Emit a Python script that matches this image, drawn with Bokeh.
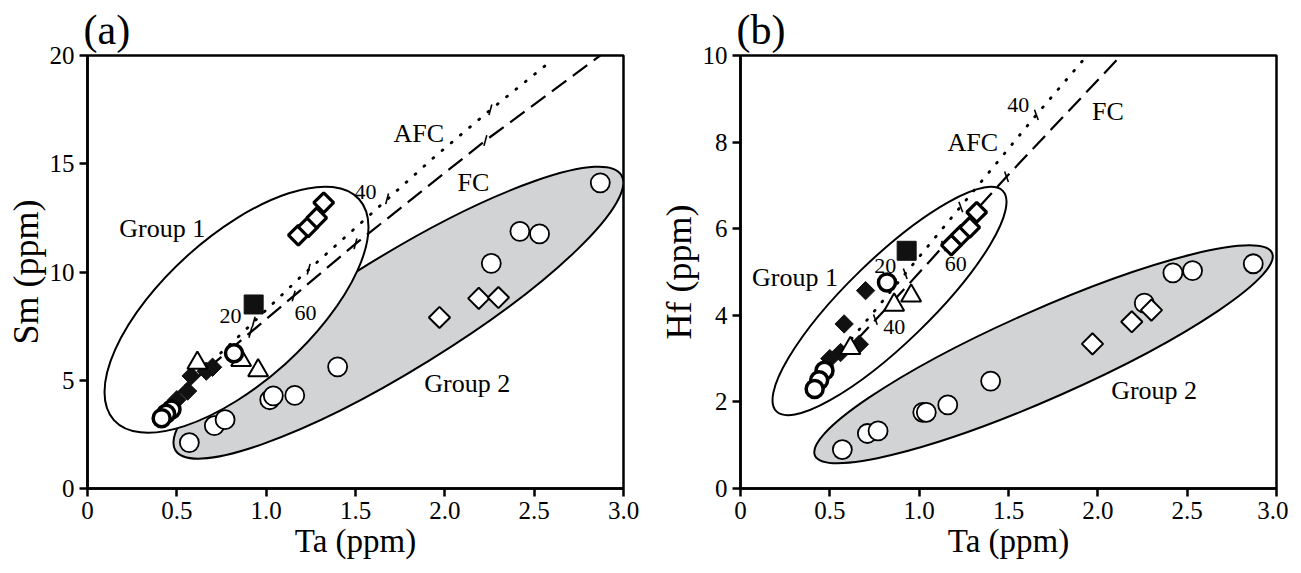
import numpy as np
from bokeh.plotting import figure
from bokeh.layouts import row
from bokeh.models import FixedTicker, CustomJSTickFormatter
from bokeh.embed import file_html
from bokeh.resources import INLINE
from bokeh.core.properties import value

FONT = "Liberation Serif"

# ---------------- data (Ta shared by both panels) ----------------
# Group 2: open circles
g2c_ta = [0.57, 0.71, 0.77, 1.02, 1.04, 1.16, 1.40, 2.26, 2.42, 2.53, 2.87]
g2c_sm = [2.12, 2.90, 3.18, 4.10, 4.28, 4.30, 5.62, 10.40, 11.88, 11.76, 14.12]
g2c_hf = [0.90, 1.27, 1.33, 1.76, 1.76, 1.93, 2.48, 4.28, 4.98, 5.03, 5.19]
# Group 2: open diamonds
g2d_ta = [1.97, 2.19, 2.30]
g2d_sm = [7.90, 8.78, 8.82]
g2d_hf = [3.34, 3.85, 4.12]
# Group 1: bold open diamonds
g1d_ta = [1.18, 1.235, 1.283, 1.322]
g1d_sm = [11.70, 12.08, 12.50, 13.20]
g1d_hf = [5.62, 5.85, 6.03, 6.38]
# Group 1: filled diamonds
g1f_ta = [0.70, 0.58, 0.665, 0.56, 0.50]
g1f_sm = [5.60, 5.20, 5.42, 4.50, 4.10]
g1f_hf = [4.57, 3.80, 3.33, 3.14, 3.00]
# Group 1: bold open circles
g1c_ta = [0.82, 0.47, 0.44, 0.415]
g1c_sm = [6.25, 3.65, 3.45, 3.25]
g1c_hf = [4.76, 2.72, 2.50, 2.30]
# Group 1: open triangles
g1t_ta = [0.86, 0.955, 0.615]
g1t_sm = [5.92, 5.45, 5.80]
g1t_hf = [4.24, 4.45, 3.24]
# Group 1: filled square
g1s_ta = [0.93]
g1s_sm = [8.50]
g1s_hf = [5.49]

# Model curves (Ta, Sm) and (Ta, Hf)
afc_a_ta = [0.45, 0.83, 1.19, 1.50, 1.94, 2.255, 2.58]
afc_a_sm = [4.0, 6.90, 9.75, 12.04, 15.30, 17.49, 19.65]
fc_a_ta = [0.45, 0.99, 1.50, 2.227, 2.87]
fc_a_sm = [4.0, 7.75, 11.30, 16.07, 20.0]
afc_b_ta = [0.45, 1.024, 1.656, 1.94]
afc_b_hf = [2.60, 5.47, 8.63, 10.0]
fc_b_ta = [0.45, 0.922, 1.489, 2.13]
fc_b_hf = [2.55, 4.63, 7.20, 10.0]

# Tick marks on the curves (percent crystallised)
tick_a_ta = [0.912, 1.154, 1.50, 2.227, 0.93, 1.238, 1.677, 2.255]
tick_a_sm = [7.21, 8.89, 11.30, 16.07, 7.69, 10.13, 13.38, 17.49]
tick_b_ta = [0.755, 1.136, 1.489, 0.922, 1.233, 1.656]
tick_b_hf = [3.90, 5.60, 7.20, 4.96, 6.50, 8.63]
pct_a_lab = ["20", "60", "40"]
pct_a_ta = [0.80, 1.22, 1.556]
pct_a_sm = [7.95, 8.09, 13.68]
pct_b_lab = ["20", "60", "40", "40"]
pct_b_ta = [0.81, 1.205, 0.86, 1.554]
pct_b_hf = [5.13, 5.19, 3.72, 8.86]

# Text annotations
ann_a_lab = ["AFC", "FC", "Group 1", "Group 2"]
ann_a_ta = [1.854, 2.16, 0.418, 2.125]
ann_a_sm = [16.38, 14.15, 11.99, 4.83]
ann_b_lab = ["AFC", "FC", "Group 1", "Group 2"]
ann_b_ta = [1.30, 2.056, 0.305, 2.315]
ann_b_hf = [7.98, 8.71, 4.88, 2.26]

# Group ellipses: centre (data), full axes (screen px), angle (deg)
ell_a = {"g1": (0.834, 8.26, 330, 146, 42.0), "g2": (1.74, 8.12, 524, 114, 31.7)}
ell_b = {"g1": (0.834, 4.33, 316, 84, 44.2), "g2": (1.696, 3.10, 500, 88, 23.9)}

x_ticks = [0, 0.5, 1.0, 1.5, 2.0, 2.5, 3.0]

FW, FH = 536, 433


def make_panel(letter, ylabel, ymax, yticks, ys, curves, ticks, pcts, anns, ells,
               left_border, right_border, tick_angle):
    p = figure(frame_width=FW, frame_height=FH, x_range=(0, 3.0), y_range=(0, ymax),
               output_backend="svg", toolbar_location=None,
               min_border_left=left_border, min_border_right=right_border,
               min_border_top=55, min_border_bottom=78)
    p.title.text = letter
    p.title.text_font = FONT
    p.title.text_font_size = "42px"
    p.title.text_font_style = "normal"
    p.title.text_color = "black"
    p.title.offset = -4
    p.title.standoff = 5
    p.xgrid.visible = False
    p.ygrid.visible = False
    p.background_fill_color = "white"
    p.outline_line_color = "black"
    p.outline_line_width = 2.5
    p.outline_line_alpha = 1.0

    for ax in (p.xaxis[0], p.yaxis[0]):
        ax.axis_line_width = 2.5
        ax.major_tick_line_width = 2.5
        ax.major_tick_out = 8
        ax.major_tick_in = 0
        ax.minor_tick_line_color = None
        ax.major_label_text_font = FONT
        ax.major_label_text_font_size = "25px"
        ax.major_label_text_color = "black"
        ax.axis_label_text_font = FONT
        ax.axis_label_text_font_style = "normal"
        ax.axis_label_text_color = "black"
        ax.major_label_standoff = 5
        ax.axis_label_standoff = 1
    p.xaxis.axis_label_text_font_size = "33px"
    p.yaxis.axis_label_text_font_size = "36px"
    p.xaxis.ticker = FixedTicker(ticks=x_ticks)
    p.xaxis.formatter = CustomJSTickFormatter(code="return tick == 0 ? '0' : tick.toFixed(1);")
    p.yaxis.ticker = FixedTicker(ticks=yticks)
    p.xaxis.axis_label = "Ta (ppm)"
    p.yaxis.axis_label = ylabel

    # ellipses: group 2 (grey) below, group 1 (white) above
    cx, cy, w, h, ang = ells["g2"]
    p.ellipse(x=[cx], y=[cy], width=[w], height=[h], angle=[np.deg2rad(ang)],
              width_units="screen", height_units="screen",
              fill_color="#d1d3d4", line_color="black", line_width=2)
    cx, cy, w, h, ang = ells["g1"]
    p.ellipse(x=[cx], y=[cy], width=[w], height=[h], angle=[np.deg2rad(ang)],
              width_units="screen", height_units="screen",
              fill_color="white", line_color="black", line_width=2)

    # model curves
    (afx, afy), (fcx, fcy) = curves
    p.line(afx, afy, line_color="black", line_width=2.8, line_dash="1 11", line_cap="round")
    p.line(fcx, fcy, line_color="black", line_width=2.2, line_dash="18 8")
    tx, ty = ticks
    p.scatter(tx, ty, marker="dash", size=11, angle=np.deg2rad(tick_angle),
              line_color="black", line_width=1.6)
    lab, lx, ly = pcts
    p.text(lx, ly, text=lab, text_font=value(FONT), text_font_size="22px",
           text_align="center", text_baseline="middle", text_color="black")
    lab, lx, ly = anns
    p.text(lx, ly, text=lab, text_font=value(FONT), text_font_size="26px",
           text_align="center", text_baseline="middle", text_color="black")

    # group 2 symbols
    p.scatter(g2c_ta, ys["g2c"], marker="circle", size=19, fill_color="white",
              line_color="black", line_width=1.8)
    p.scatter(g2d_ta, ys["g2d"], marker="square", angle=np.pi / 4, size=15,
              fill_color="white", line_color="black", line_width=2)
    # group 1 symbols
    p.scatter(g1f_ta, ys["g1f"], marker="square", angle=np.pi / 4, size=13,
              fill_color="#111111", line_color="#111111", line_width=1)
    p.scatter(g1t_ta, ys["g1t"], marker="triangle", size=20, fill_color="white",
              line_color="black", line_width=2)
    p.scatter(g1c_ta, ys["g1c"], marker="circle", size=17, fill_color="white",
              line_color="black", line_width=3.5)
    p.scatter(g1s_ta, ys["g1s"], marker="square", size=19, fill_color="#111111",
              line_color="#111111", line_width=1)
    p.scatter(g1d_ta, ys["g1d"], marker="square", angle=np.pi / 4, size=14,
              fill_color="white", line_color="black", line_width=3.2)
    return p


pa = make_panel("(a)", "Sm (ppm)", 20, [0, 5, 10, 15, 20],
                {"g2c": g2c_sm, "g2d": g2d_sm, "g1d": g1d_sm, "g1f": g1f_sm,
                 "g1c": g1c_sm, "g1t": g1t_sm, "g1s": g1s_sm},
                ((afc_a_ta, afc_a_sm), (fc_a_ta, fc_a_sm)),
                (tick_a_ta, tick_a_sm), (pct_a_lab, pct_a_ta, pct_a_sm),
                (ann_a_lab, ann_a_ta, ann_a_sm), ell_a, 87, 32, 75)
pb = make_panel("(b)", "Hf (ppm)", 10, [0, 2, 4, 6, 8, 10],
                {"g2c": g2c_hf, "g2d": g2d_hf, "g1d": g1d_hf, "g1f": g1f_hf,
                 "g1c": g1c_hf, "g1t": g1t_hf, "g1s": g1s_hf},
                ((afc_b_ta, afc_b_hf), (fc_b_ta, fc_b_hf)),
                (tick_b_ta, tick_b_hf), (pct_b_lab, pct_b_ta, pct_b_hf),
                (ann_b_lab, ann_b_ta, ann_b_hf), ell_b, 83, 12, 110)

layout = row(pa, pb)
open("out.html", "w").write(file_html(layout, INLINE))
